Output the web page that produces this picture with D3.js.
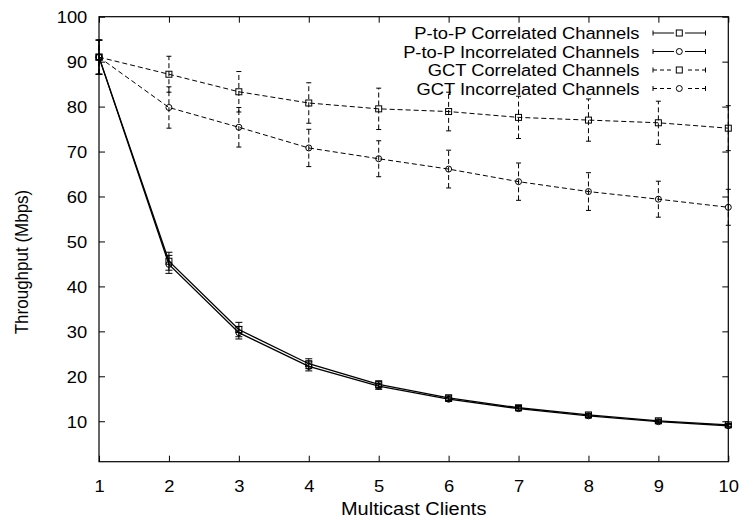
<!DOCTYPE html>
<html>
<head>
<meta charset="utf-8">
<script src="https://cdn.jsdelivr.net/npm/d3@7"></script>
<style>
  body { margin: 0; background: #fff; }
  text { font-family: "Liberation Sans", Arial, Helvetica, sans-serif; fill: #000; }
</style>
</head>
<body>
<svg id="chart" width="742" height="519"></svg>
<script>
// Throughput vs number of multicast clients, mean with error bars
const clients = [1, 2, 3, 4, 5, 6, 7, 8, 9, 10];

const p2pCorr      = [91, 45.6, 30.4, 22.8, 18.2, 15.2, 13.0, 11.4, 10.1, 9.2];
const p2pCorrErr   = [3.8, 2.0, 1.6, 1.1, 0.8, 0.6, 0.5, 0.4, 0.35, 0.3];
const p2pIncorr    = [91, 44.9, 29.7, 22.2, 17.8, 14.9, 12.8, 11.2, 9.9, 9.0];
const p2pIncorrErr = [3.8, 2.0, 1.4, 1.0, 0.7, 0.5, 0.45, 0.4, 0.35, 0.3];
const gctCorr      = [91, 87.2, 83.3, 80.8, 79.5, 78.9, 77.6, 77.0, 76.4, 75.2];
const gctCorrErr   = [3.8, 4.0, 4.5, 4.5, 4.6, 4.3, 4.7, 4.7, 4.8, 5.0];
const gctIncorr    = [91, 79.8, 75.4, 70.8, 68.4, 66.1, 63.3, 61.1, 59.4, 57.6];
const gctIncorrErr = [3.8, 4.6, 4.4, 4.15, 4.0, 4.2, 4.15, 4.2, 4.0, 4.0];

const seriesNames = [
  "P-to-P Correlated Channels",
  "P-to-P Incorrelated Channels",
  "GCT Correlated Channels",
  "GCT Incorrelated Channels"
];
const xTicks = [1, 2, 3, 4, 5, 6, 7, 8, 9, 10];
const yTicks = [10, 20, 30, 40, 50, 60, 70, 80, 90, 100];
const xTitle = "Multicast Clients";
const yTitle = "Throughput (Mbps)";

const series = [
  { name: seriesNames[0], values: p2pCorr,   err: p2pCorrErr,   marker: "square", dashed: false },
  { name: seriesNames[1], values: p2pIncorr, err: p2pIncorrErr, marker: "circle", dashed: false },
  { name: seriesNames[2], values: gctCorr,   err: gctCorrErr,   marker: "square", dashed: true },
  { name: seriesNames[3], values: gctIncorr, err: gctIncorrErr, marker: "circle", dashed: true }
];

const svg = d3.select("#chart");
const plot = { left: 99, right: 728.3, top: 16.7, bottom: 461.7 };
const stretch = 1.08;   // glyphs are slightly wider than tall
const fontSize = 17;

const x = d3.scaleLinear().domain([1, 10]).range([plot.left, plot.right]);
const y = d3.scaleLinear().domain([1, 100]).range([plot.bottom, plot.top]);

// ---- axes: inward ticks on all four sides ----
const tickLen = 6;
const gLeft = svg.append("g").attr("transform", `translate(${plot.left},0)`)
  .call(d3.axisLeft(y).tickValues(yTicks).tickSizeInner(-tickLen).tickSizeOuter(0).tickPadding(0));
gLeft.selectAll("text")
  .attr("x", null).attr("dy", "0.36em").attr("text-anchor", "end")
  .attr("transform", `translate(-11.7,0) scale(${stretch},1)`)
  .style("font-size", fontSize + "px");

const gRight = svg.append("g").attr("transform", `translate(${plot.right},0)`)
  .call(d3.axisRight(y).tickValues(yTicks).tickSizeInner(-tickLen).tickSizeOuter(0).tickFormat(""));

const gBottom = svg.append("g").attr("transform", `translate(0,${plot.bottom})`)
  .call(d3.axisBottom(x).tickValues(xTicks).tickSizeInner(-tickLen).tickSizeOuter(0).tickPadding(0));
gBottom.selectAll("text")
  .attr("y", null).attr("dy", null)
  .attr("transform", `translate(0,30) scale(${stretch},1)`)
  .style("font-size", fontSize + "px");

const gTop = svg.append("g").attr("transform", `translate(0,${plot.top})`)
  .call(d3.axisTop(x).tickValues(xTicks).tickSizeInner(-tickLen).tickSizeOuter(0).tickFormat(""));

[gLeft, gRight, gBottom, gTop].forEach(g => {
  g.select(".domain").remove();
  g.selectAll(".tick line").attr("stroke", "#000").attr("stroke-width", 1);
});

// plot frame
svg.append("rect")
  .attr("x", plot.left).attr("y", plot.top)
  .attr("width", plot.right - plot.left).attr("height", plot.bottom - plot.top)
  .attr("fill", "none").attr("stroke", "#000").attr("stroke-width", 1.2);

// ---- axis titles ----
svg.append("text")
  .attr("text-anchor", "middle")
  .attr("transform", `translate(${(plot.left + plot.right) / 2},515) scale(${stretch},1)`)
  .style("font-size", "18.5px")
  .text(xTitle);

svg.append("text")
  .attr("text-anchor", "middle")
  .attr("transform", `translate(28,262) scale(${stretch},1) rotate(-90)`)
  .style("font-size", "17px")
  .text(yTitle);

// ---- data ----
const dash = "5,3";
const line = d3.line().x((d, i) => x(clients[i])).y(d => y(d));

function drawMarker(g, type, cx, cy, size) {
  if (type === "square") {
    g.append("rect")
      .attr("x", cx - size / 2).attr("y", cy - size / 2)
      .attr("width", size).attr("height", size)
      .attr("fill", "none").attr("stroke", "#000").attr("stroke-width", 1);
  } else {
    g.append("circle")
      .attr("cx", cx).attr("cy", cy).attr("r", size / 2)
      .attr("fill", "none").attr("stroke", "#000").attr("stroke-width", 1);
  }
}

const gData = svg.append("g");
series.forEach(s => {
  const g = gData.append("g");
  g.append("path")
    .datum(s.values)
    .attr("d", line)
    .attr("fill", "none")
    .attr("stroke", "#000")
    .attr("stroke-width", s.dashed ? 1 : 1.3)
    .attr("stroke-dasharray", s.dashed ? dash : null);

  const capW = s.dashed ? 5 : 7;
  s.values.forEach((v, i) => {
    const cx = x(clients[i]);
    const y0 = y(v - s.err[i]), y1 = y(v + s.err[i]);
    g.append("line")
      .attr("x1", cx).attr("x2", cx).attr("y1", y0).attr("y2", y1)
      .attr("stroke", "#000").attr("stroke-width", 1)
      .attr("stroke-dasharray", s.dashed ? dash : null);
    [y0, y1].forEach(yy => {
      g.append("line")
        .attr("x1", cx - capW / 2).attr("x2", cx + capW / 2)
        .attr("y1", yy).attr("y2", yy)
        .attr("stroke", "#000").attr("stroke-width", 1);
    });
    drawMarker(g, s.marker, cx, y(v), 6);
  });
});

// ---- legend ----
const legendRows = [33, 51.5, 70, 88.5];
const legend = svg.append("g");
series.forEach((s, i) => {
  const ly = legendRows[i];
  legend.append("text")
    .attr("text-anchor", "end")
    .attr("dy", "0.36em")
    .attr("transform", `translate(639.5,${ly}) scale(${stretch},1)`)
    .style("font-size", fontSize + "px")
    .text(s.name);
  const x0 = 653, x1 = 705.5;
  legend.append("line")
    .attr("x1", x0).attr("x2", x1).attr("y1", ly).attr("y2", ly)
    .attr("stroke", "#000").attr("stroke-width", 1)
    .attr("stroke-dasharray", s.dashed ? "4,3" : null);
  [x0, x1].forEach(xx => {
    legend.append("line")
      .attr("x1", xx).attr("x2", xx).attr("y1", ly - 2.5).attr("y2", ly + 2.5)
      .attr("stroke", "#000").attr("stroke-width", 1);
  });
  const mg = legend.append("g");
  mg.append("rect").attr("x", 674).attr("y", ly - 5).attr("width", 11).attr("height", 10).attr("fill", "#fff");
  drawMarker(mg, s.marker, 679.3, ly, 6);
});
</script>
</body>
</html>
